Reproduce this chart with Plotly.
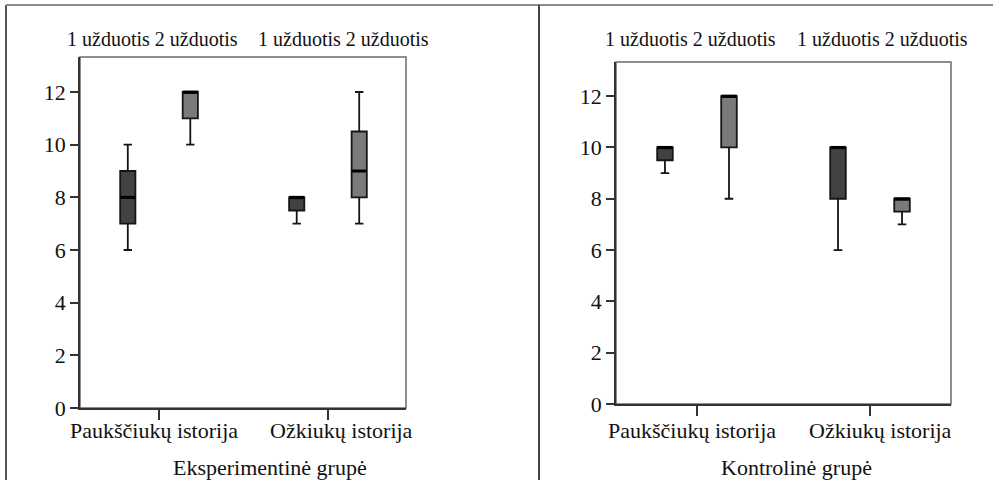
import plotly.graph_objects as go

W, H = 993, 480

# Two stories, each told by two tasks
stories = ["Paukščiukų istorija", "Ožkiukų istorija"]
tasks = ["1 užduotis", "2 užduotis"]
groups = ["Eksperimentinė grupė", "Kontrolinė grupė"]

# Five-number summaries per group, ordered story by story, task by task
exp_low = [6, 10, 7, 7]
exp_q1 = [7, 11, 7.5, 8]
exp_med = [8, 12, 8, 9]
exp_q3 = [9, 12, 8, 10.5]
exp_high = [10, 12, 8, 12]

ctl_low = [9, 8, 6, 7]
ctl_q1 = [9.5, 10, 8, 7.5]
ctl_med = [10, 12, 10, 8]
ctl_q3 = [10, 12, 10, 8]
ctl_high = [10, 12, 10, 8]

y_ticks = [0, 2, 4, 6, 8, 10, 12]

SERIF = "Liberation Serif"
FILLS = ["#424242", "#7a7a7a"]
OFFSET = 0.185
BOX_W = 0.09


def px_x(p):
    return p / W


def px_y(p):
    return 1 - p / H


panels = [
    dict(low=exp_low, q1=exp_q1, med=exp_med, q3=exp_q3, high=exp_high,
         xdom=[px_x(80), px_x(406)], ydom=[px_y(408), px_y(57)],
         xr=[0.532, 2.462], title_x=270, head_x=[152, 343], label_x=[154, 341]),
    dict(low=ctl_low, q1=ctl_q1, med=ctl_med, q3=ctl_q3, high=ctl_high,
         xdom=[px_x(616), px_x(951)], ydom=[px_y(404), px_y(62)],
         xr=[0.532, 2.468], title_x=796, head_x=[690, 882], label_x=[692, 880]),
]

fig = go.Figure()
annotations = []
shapes = []

for k, pn in enumerate(panels):
    xa = "x" if k == 0 else "x2"
    ya = "y" if k == 0 else "y2"
    i = 0
    for s in range(len(stories)):
        for t in range(len(tasks)):
            pos = (s + 1) + (-OFFSET if t == 0 else OFFSET)
            fig.add_trace(go.Box(
                x=[pos], q1=[pn["q1"][i]], median=[pn["med"][i]], q3=[pn["q3"][i]],
                lowerfence=[pn["low"][i]], upperfence=[pn["high"][i]],
                width=BOX_W, whiskerwidth=0.55,
                fillcolor=FILLS[t], line=dict(color="#151515", width=1.8),
                boxpoints=False, showlegend=False, xaxis=xa, yaxis=ya,
            ))
            # heavy median bar
            fig.add_trace(go.Scatter(
                x=[pos - BOX_W / 2, pos + BOX_W / 2], y=[pn["med"][i]] * 2,
                mode="lines", line=dict(color="#000000", width=3),
                showlegend=False, hoverinfo="skip", xaxis=xa, yaxis=ya,
            ))
            i += 1

    ax_x = dict(domain=pn["xdom"], range=pn["xr"], tickvals=[1, 2], showticklabels=False,
                ticks="outside", ticklen=10, tickwidth=1.5, tickcolor="#333",
                showline=True, linecolor="#333", linewidth=1.5, showgrid=False,
                zeroline=False, anchor=ya, fixedrange=True, automargin=False)
    ax_y = dict(domain=pn["ydom"], range=[0, 13.33], tickvals=y_ticks,
                ticks="outside", ticklen=8, tickwidth=1.5, tickcolor="#333",
                showline=True, linecolor="#333", linewidth=1.5, showgrid=False,
                zeroline=False, tickfont=dict(family=SERIF, size=22, color="#111"),
                anchor=xa, fixedrange=True, automargin=False)
    if k == 0:
        fig.update_layout(xaxis=ax_x, yaxis=ax_y)
    else:
        fig.update_layout(xaxis2=ax_x, yaxis2=ax_y)

    # light frame around the plotting area
    shapes.append(dict(type="rect", xref=f"{xa} domain", yref=f"{ya} domain",
                       x0=0, x1=1, y0=0, y1=1, line=dict(color="#6a6a6a", width=1.5),
                       layer="below"))

    # story names under the category ticks
    for lx, name in zip(pn["label_x"], stories):
        annotations.append(dict(x=px_x(lx), y=px_y(430), xref="paper", yref="paper",
                                text=name, showarrow=False, xanchor="center",
                                yanchor="middle", font=dict(family=SERIF, size=22, color="#111")))

    for hx in pn["head_x"]:
        annotations.append(dict(x=px_x(hx), y=px_y(39), xref="paper", yref="paper",
                                text=f"{tasks[0]} {tasks[1]}", showarrow=False,
                                xanchor="center", yanchor="middle",
                                font=dict(family=SERIF, size=20, color="#111")))
    annotations.append(dict(x=px_x(pn["title_x"]), y=px_y(467), xref="paper", yref="paper",
                            text=groups[k], showarrow=False, xanchor="center",
                            yanchor="middle", font=dict(family=SERIF, size=22, color="#111")))

# table-like frame around the two panels
shapes += [
    dict(type="line", xref="paper", yref="paper", x0=px_x(6), x1=px_x(6),
         y0=px_y(5), y1=0, line=dict(color="#555", width=2)),
    dict(type="line", xref="paper", yref="paper", x0=px_x(6), x1=1,
         y0=px_y(5), y1=px_y(5), line=dict(color="#8a8a8a", width=2)),
    dict(type="line", xref="paper", yref="paper", x0=px_x(539), x1=px_x(539),
         y0=px_y(5), y1=0, line=dict(color="#444", width=2)),
]

fig.update_layout(
    width=W, height=H, margin=dict(l=0, r=0, t=0, b=0, autoexpand=False),
    paper_bgcolor="white", plot_bgcolor="white",
    annotations=annotations, shapes=shapes, showlegend=False,
)

fig.write_html("out.html", config={"displayModeBar": False})
